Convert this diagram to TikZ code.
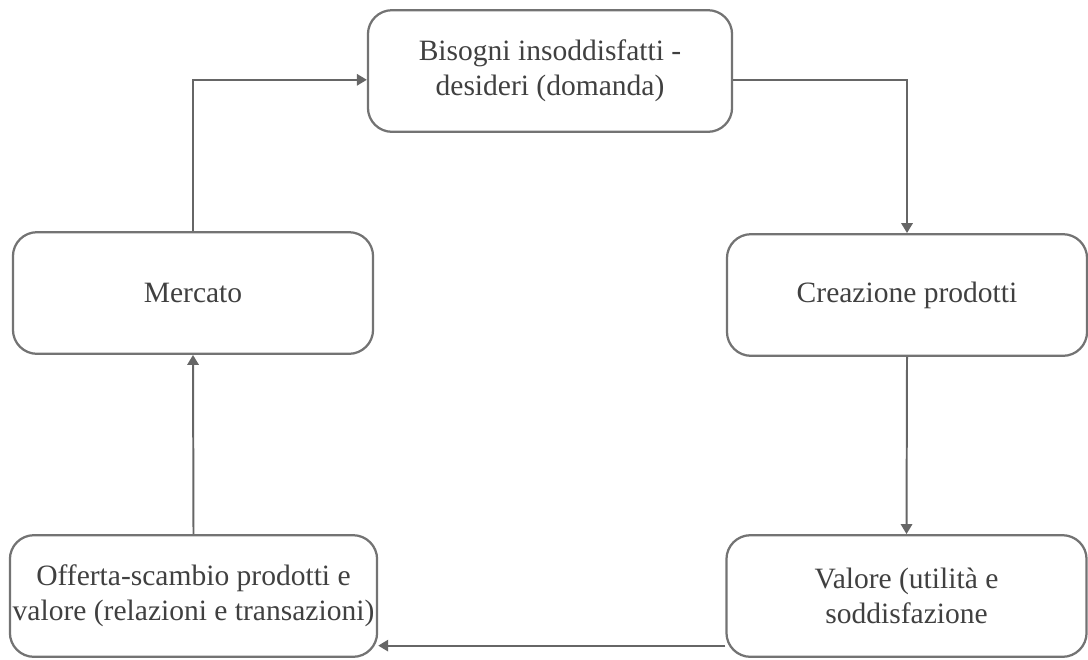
\documentclass[tikz,border=0pt]{standalone}
\usepackage{fontspec}
\setmainfont{Liberation Serif}
\usetikzlibrary{positioning,arrows.meta}

\begin{document}
\begin{tikzpicture}[x=0.0125cm, y=-0.0125cm, thick,
    main/.style = {draw=black!55, rectangle, rounded corners=0.3cm, minimum width=4.5cm, minimum height=1.52cm, align=center, inner xsep=1pt, text=black!75, font=\fontsize{10.5}{12.5}\selectfont},
    link/.style = {draw=black!60, line width=0.7pt, -{Triangle[length=3.5pt,width=4pt]}}
    ]
\useasboundingbox (0,0) rectangle (1088,659);

\node[main, minimum width=4.55cm] (bisogni) at (550,71) {Bisogni insoddisfatti -\\desideri (domanda)};
\node[main] (mercato)   at (193,293)   {Mercato};
\node[main] (creazione) at (907,295)   {Creazione prodotti};
\node[main] (offerta)   at (193.5,596) {Offerta-scambio prodotti e\\valore (relazioni e transazioni)};
\node[main] (valore)    at (906.5,596) {Valore (utilità e\\soddisfazione};

\draw[link] (mercato.north) |- ([yshift=-0.11cm]bisogni.west);
\draw[link] ([yshift=-0.11cm]bisogni.east) -| (creazione.north);
\draw[link] (creazione.south) -- (valore.south |- valore.north);
\draw[link] ([yshift=-0.62cm]valore.west) -- ([yshift=-0.62cm]offerta.east);
\draw[link] (offerta.north) -- (mercato.south);

\end{tikzpicture}
\end{document}
